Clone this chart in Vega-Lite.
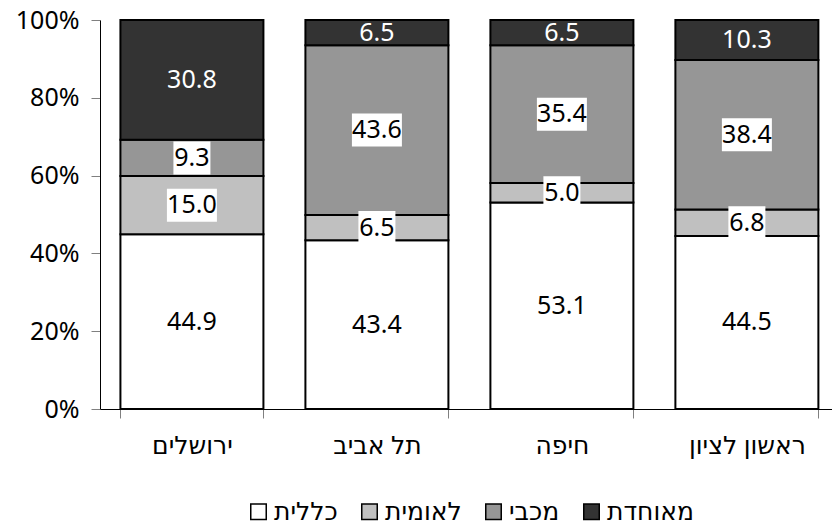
{
  "$schema": "https://vega.github.io/schema/vega-lite/v6.json",
  "width": 732,
  "height": 389,
  "autosize": {"type": "none"},
  "padding": {"left": 100, "top": 20, "right": 0, "bottom": 119},
  "background": "white",
  "config": {
    "view": {"stroke": null},
    "font": "Noto Sans, DejaVu Sans",
    "axis": {"grid": false, "title": null, "labelFont": "Noto Sans, DejaVu Sans", "labelFontSize": 25, "labelColor": "black", "domainColor": "black", "domainWidth": 1, "tickColor": "#808080", "tickSize": 9, "tickWidth": 1},
    "legend": {"labelFont": "Noto Sans, DejaVu Sans", "labelFontSize": 25, "labelColor": "black"}
  },
  "data": {"values": [
    {"city": "ירושלים", "party": "כללית", "k": 1, "value": 44.9},
    {"city": "ירושלים", "party": "לאומית", "k": 2, "value": 15.0},
    {"city": "ירושלים", "party": "מכבי", "k": 3, "value": 9.3},
    {"city": "ירושלים", "party": "מאוחדת", "k": 4, "value": 30.8},
    {"city": "תל אביב", "party": "כללית", "k": 1, "value": 43.4},
    {"city": "תל אביב", "party": "לאומית", "k": 2, "value": 6.5},
    {"city": "תל אביב", "party": "מכבי", "k": 3, "value": 43.6},
    {"city": "תל אביב", "party": "מאוחדת", "k": 4, "value": 6.5},
    {"city": "חיפה", "party": "כללית", "k": 1, "value": 53.1},
    {"city": "חיפה", "party": "לאומית", "k": 2, "value": 5.0},
    {"city": "חיפה", "party": "מכבי", "k": 3, "value": 35.4},
    {"city": "חיפה", "party": "מאוחדת", "k": 4, "value": 6.5},
    {"city": "ראשון לציון", "party": "כללית", "k": 1, "value": 44.5},
    {"city": "ראשון לציון", "party": "לאומית", "k": 2, "value": 6.8},
    {"city": "ראשון לציון", "party": "מכבי", "k": 3, "value": 38.4},
    {"city": "ראשון לציון", "party": "מאוחדת", "k": 4, "value": 10.3}
  ]},
  "encoding": {
    "x": {"field": "city", "type": "nominal", "sort": null,
      "scale": {"paddingInner": 0.227, "paddingOuter": 0.092, "align": 0.6},
      "axis": {"labelAngle": 0, "tickBand": "extent", "labelPadding": 15, "title": null}},
    "order": {"field": "k", "type": "quantitative"}
  },
  "layer": [
    {
      "mark": {"type": "bar", "stroke": "black", "strokeWidth": 2},
      "encoding": {
        "y": {"field": "value", "type": "quantitative", "stack": "zero",
          "scale": {"domain": [0, 100], "nice": false},
          "axis": {"values": [0, 20, 40, 60, 80, 100], "labelExpr": "datum.value + '%'", "labelPadding": 12, "title": null}},
        "color": {"field": "party", "type": "nominal",
          "scale": {"domain": ["כללית", "לאומית", "מכבי", "מאוחדת"], "range": ["#ffffff", "#c0c0c0", "#969696", "#333333"]},
          "legend": {"orient": "none", "legendX": 146, "legendY": 479, "direction": "horizontal", "title": null,
            "symbolType": "square", "symbolSize": 240, "symbolStrokeColor": "black", "symbolStrokeWidth": 1.5,
            "labelOffset": 3, "columnPadding": 19, "padding": 0}}
      }
    },
    {
      "mark": {"type": "point", "filled": true, "fill": "white", "strokeWidth": 0, "size": 2500},
      "encoding": {
        "y": {"field": "value", "type": "quantitative", "stack": "zero", "bandPosition": 0.5,
          "scale": {"domain": [0, 100], "nice": false},
          "axis": {"values": [0, 20, 40, 60, 80, 100], "labelExpr": "datum.value + '%'", "labelPadding": 12, "title": null}},
        "shape": {"condition": {"test": "datum.value >= 10", "value": "M-1,-0.66H1V0.66H-1Z"}, "value": "M-0.74,-0.66H0.74V0.66H-0.74Z"},
        "opacity": {"condition": {"test": "datum.party === 'לאומית' || datum.party === 'מכבי'", "value": 1}, "value": 0}
      }
    },
    {
      "mark": {"type": "text", "fontSize": 25, "baseline": "middle", "font": "Noto Sans, DejaVu Sans"},
      "encoding": {
        "y": {"field": "value", "type": "quantitative", "stack": "zero", "bandPosition": 0.5,
          "scale": {"domain": [0, 100], "nice": false},
          "axis": {"values": [0, 20, 40, 60, 80, 100], "labelExpr": "datum.value + '%'", "labelPadding": 12, "title": null}},
        "text": {"field": "value", "type": "quantitative", "format": ".1f"},
        "color": {"condition": {"test": "datum.party === 'מאוחדת'", "value": "white"}, "value": "black"}
      }
    }
  ]
}
